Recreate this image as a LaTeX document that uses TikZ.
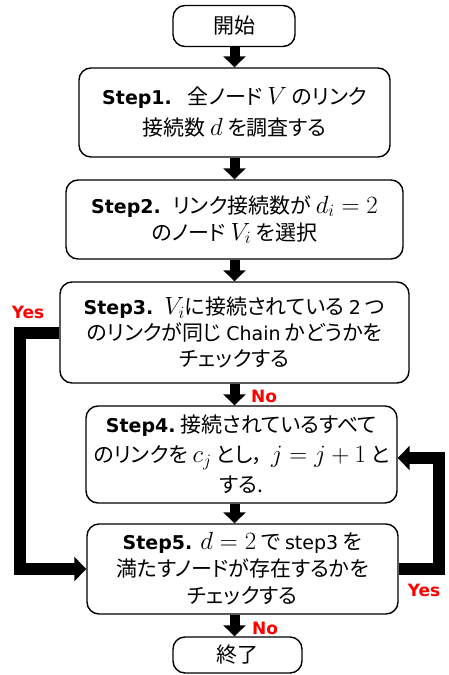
\documentclass[tikz,border=0pt]{standalone}
\usepackage{fontspec}
\setmainfont{Noto Sans CJK JP}[RawFeature=+palt]
\newfontfamily\latf{DejaVu Sans}
\usetikzlibrary{arrows.meta,calc}
\newcommand{\stb}[2]{{\latf\bfseries\fontsize{19}{19}\selectfont #1}\hspace{#2}}
\newcommand{\ltxt}[1]{{\latf\fontsize{19}{19}\selectfont #1}}
\newcommand{\mth}[1]{{\fontsize{23}{23}\selectfont$#1$}}
\tikzset{
  box/.style={draw, line width=1.4pt, rounded corners=12pt, align=center,
    font=\fontsize{21}{27}\selectfont, inner sep=0pt},
  arr/.style={line width=10pt, -{Triangle[length=11pt,width=22pt]}},
  loopline/.style={line width=12pt, line join=miter, -{Triangle[length=12pt,width=24pt]}},
  lab/.style={text=red, font=\latf\bfseries\fontsize{17}{17}\selectfont, inner sep=0pt}
}
\begin{document}
\begin{tikzpicture}[x=1pt,y=-1pt]
\useasboundingbox (0,0) rectangle (448,675);
\node[box, minimum width=122pt, minimum height=41pt] (start) at (234,26) {開始};
\node[box, minimum width=311pt, minimum height=89pt, font=\fontsize{21}{31}\selectfont] (s1) at (234.5,112.5)
  {\stb{Step1.}{16pt}全ノード \mth{V} のリンク\\接続数 \mth{d} を調査する};
\node[box, minimum width=337pt, minimum height=79pt] (s2) at (234.5,219.5)
  {\stb{Step2.}{12pt}リンク接続数が \mth{d_i = 2}\\のノード \mth{V_i} を選択};
\node[box, minimum width=349pt, minimum height=101pt, font=\fontsize{21}{26}\selectfont] (s3) at (234.5,332.5)
  {\stb{Step3.}{11pt}\mth{V_i}に接続されている \ltxt{2} つ\\のリンクが同じ \ltxt{Chain} かどうかを\\チェックする};
\node[box, minimum width=311pt, minimum height=97pt, font=\fontsize{21}{30}\selectfont] (s4) at (241.5,454.5)
  {\stb{Step4.}{5pt}接続されているすべて\\のリンクを \mth{c_j} とし，\hspace{8pt}\mth{j = j + 1} と\\する.};
\node[box, minimum width=311pt, minimum height=90pt] (s5) at (242.5,569)
  {\stb{Step5.}{8pt}\mth{d = 2} で \ltxt{step3} を\\満たすノードが存在するかを\\チェックする};
\node[box, minimum width=129pt, minimum height=36pt] (end) at (237.5,655) {終了};

\draw[arr] (start.south -| s1.north) -- (s1.north);
\draw[arr] (s1.south) -- (s2.north);
\draw[arr] (s2.south) -- (s3.north);
\draw[arr] (s3.south) -- (s3.south |- s4.north);
\draw[arr] (s4.south -| s3.south) -- (s5.north -| s3.south);
\draw[arr] (s5.south -| s3.south) -- (end.north -| s3.south);

\draw[loopline] (s3.west) -- ++(-39,0) |- (s5.west);
\draw[loopline] (s5.east) -- ++(40,0) |- ($(s4.east)+(0,3.5)$);

\node[lab] (yes1) at (28,312) {Yes};
\node[lab] (no1) at (264,396) {No};
\node[lab] (yes2) at (424,590) {Yes};
\node[lab] (no2) at (265,628) {No};
\end{tikzpicture}
\end{document}
